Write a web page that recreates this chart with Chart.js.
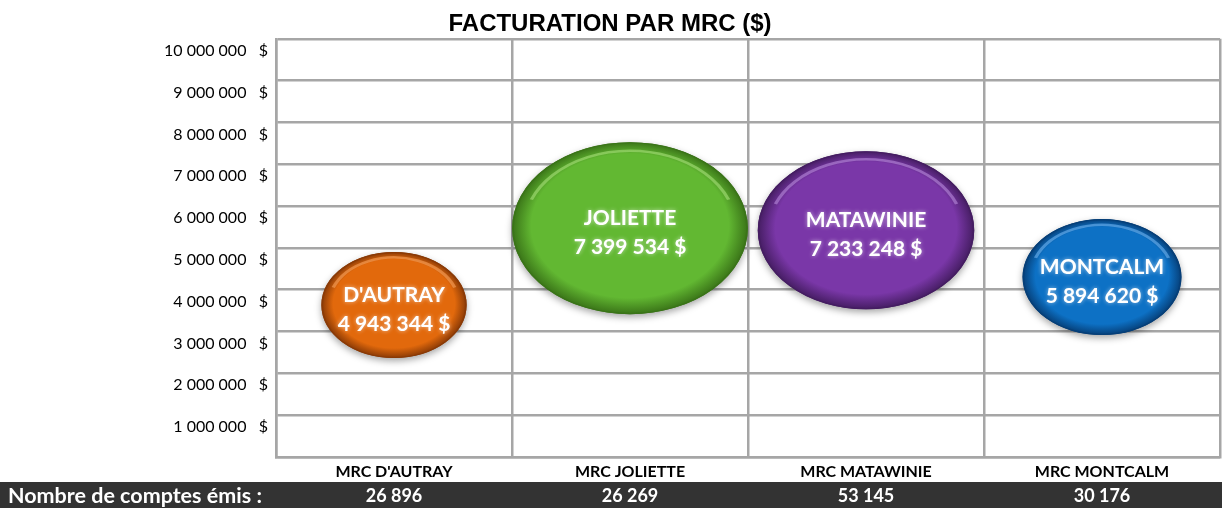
<!DOCTYPE html>
<html>
<head>
<meta charset="utf-8">
<script src="https://cdn.jsdelivr.net/npm/chart.js@4.4.0/dist/chart.umd.min.js"></script>
<style>
    html, body { margin: 0; padding: 0; background: #fff; }
    #wrap { width: 1222px; height: 508px; position: relative; }
</style>
</head>
<body>
<div id="wrap"><canvas id="mrcChart"></canvas></div>
<script>
// data
const mrcNames = ["D'AUTRAY", 'JOLIETTE', 'MATAWINIE', 'MONTCALM'];
const categories = ["MRC D'AUTRAY", 'MRC JOLIETTE', 'MRC MATAWINIE', 'MRC MONTCALM'];
const billing = [4943344, 7399534, 7233248, 5894620];     // amounts written in the bubbles
const bubbleY = [3630000, 5470000, 5420000, 4300000];      // where the bubble centres sit
const bubbleR = [53, 86, 79, 58];                          // bubble sizes
const accounts = [26896, 26269, 53145, 30176];             // "Nombre de comptes émis"
const yMin = 0;
const yMax = 10000000;
const yStep = 1000000;

const bubbleColors = [
    { base: '#E2690C', dark: '#8A3A06', light: '#F7A25E' },
    { base: '#62B832', dark: '#3A7418', light: '#A6E07A' },
    { base: '#7A37A8', dark: '#451D62', light: '#B88BDB' },
    { base: '#0D71C5', dark: '#063F78', light: '#6FB3EE' },
];
const ASPECT = 1.37;   // the bubbles are stretched sideways in the original
const GRID = '#a6a6a6';

function spaced(n) {
    return String(n).replace(/\B(?=(\d{3})+(?!\d))/g, ' ');
}

const bubblePainter = {
    id: 'bubblePainter',
    afterDatasetsDraw(chart) {
        const ctx = chart.ctx;
        const meta = chart.getDatasetMeta(0);
        meta.data.forEach((el, i) => {
            const r = el.options.radius;
            const c = bubbleColors[i];
            ctx.save();
            ctx.translate(el.x, el.y);
            ctx.scale(ASPECT, 1);

            ctx.shadowColor = 'rgba(0,0,0,0.35)';
            ctx.shadowBlur = 7;
            ctx.shadowOffsetY = 3;
            const g = ctx.createRadialGradient(0, -r * 0.15, r * 0.1, 0, 0, r);
            g.addColorStop(0, c.base);
            g.addColorStop(0.82, c.base);
            g.addColorStop(1, c.dark);
            ctx.beginPath();
            ctx.arc(0, 0, r, 0, Math.PI * 2);
            ctx.fillStyle = g;
            ctx.fill();
            ctx.shadowColor = 'transparent';

            // glossy rim on top
            ctx.beginPath();
            ctx.arc(0, 0, r * 0.9, Math.PI * 1.12, Math.PI * 1.88);
            ctx.strokeStyle = c.light;
            ctx.globalAlpha = 0.6;
            ctx.lineWidth = 2.5;
            ctx.stroke();
            ctx.globalAlpha = 1;

            ctx.beginPath();
            ctx.arc(0, 0, r - 0.6, 0, Math.PI * 2);
            ctx.strokeStyle = c.dark;
            ctx.lineWidth = 1.2;
            ctx.stroke();
            ctx.restore();

            ctx.save();
            ctx.font = 'bold 21px Lato';
            ctx.textAlign = 'center';
            ctx.textBaseline = 'middle';
            ctx.fillStyle = '#fff';
            ctx.shadowColor = 'rgba(255,255,255,0.6)';
            ctx.shadowBlur = 4;
            ctx.fillText(mrcNames[i], el.x, el.y - 10);
            ctx.fillText(spaced(billing[i]) + ' $', el.x, el.y + 19);
            ctx.restore();
        });
    },
};

const accountsBar = {
    id: 'accountsBar',
    afterDraw(chart) {
        const ctx = chart.ctx;
        const top = chart.height - 26;
        ctx.save();
        ctx.fillStyle = '#333333';
        ctx.fillRect(0, top, chart.width, 26);
        ctx.fillStyle = '#fff';
        ctx.textBaseline = 'middle';
        ctx.font = 'bold 21.5px Lato';
        ctx.textAlign = 'left';
        ctx.fillText('Nombre de comptes émis :', 8, top + 14);
        ctx.font = 'bold 18px Lato';
        ctx.textAlign = 'center';
        accounts.forEach((v, i) => {
            ctx.fillText(spaced(v), chart.scales.x.getPixelForValue(i), top + 14);
        });
        ctx.restore();
    },
};

new Chart(document.getElementById('mrcChart'), {
    type: 'bubble',
    data: {
        labels: categories,
        datasets: [{
            label: 'Facturation',
            data: categories.map((c, i) => ({ x: c, y: bubbleY[i], r: bubbleR[i] })),
            backgroundColor: 'rgba(0,0,0,0)',
            borderWidth: 0,
        }],
    },
    options: {
        responsive: true,
        maintainAspectRatio: false,
        animation: false,
        events: [],
        layout: { autoPadding: false, padding: { left: 0, right: 2, top: 0, bottom: 22 } },
        scales: {
            x: {
                type: 'category',
                offset: true,
                grid: { offset: true, color: GRID, lineWidth: 2.5, drawTicks: false },
                border: { color: GRID, width: 2.5 },
                ticks: {
                    color: '#000',
                    padding: 5,
                    font: { family: 'Lato', size: 16, weight: 'bold' },
                },
            },
            y: {
                min: yMin,
                max: yMax,
                afterFit: (s) => { s.width = 276; },
                grid: { color: GRID, lineWidth: 2.5, drawTicks: false },
                border: { color: GRID, width: 2.5 },
                ticks: {
                    stepSize: yStep,
                    labelOffset: 12,
                    padding: 8,
                    color: '#000',
                    font: { family: 'Lato', size: 16 },
                    callback: (v) => (v === 0 ? '' : spaced(v) + '   $'),
                },
            },
        },
        plugins: {
            legend: { display: false },
            tooltip: { enabled: false },
            title: {
                display: true,
                text: 'FACTURATION PAR MRC ($)',
                color: '#000',
                font: { family: 'Liberation Sans', size: 24, weight: 'bold' },
                padding: { top: 10, bottom: 0 },
            },
        },
    },
    plugins: [bubblePainter, accountsBar],
});
</script>
</body>
</html>
